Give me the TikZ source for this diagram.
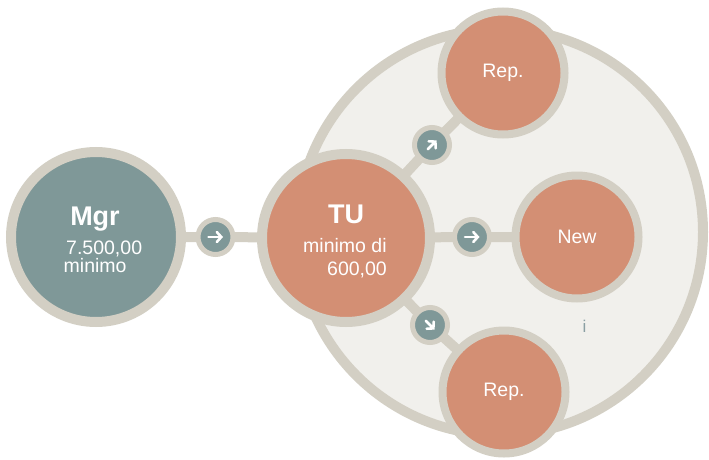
\documentclass[tikz,border=0pt]{standalone}
\usepackage{fontspec}
\setmainfont{Liberation Sans}
\usetikzlibrary{arrows.meta}
\definecolor{ringc}{HTML}{D3CFC4}
\definecolor{salmon}{HTML}{D38F74}
\definecolor{tealc}{HTML}{7F9898}
\definecolor{paper}{HTML}{F1F0EC}
\definecolor{itxt}{HTML}{8A9FA3}
\pgfdeclarelayer{back}
\pgfdeclarelayer{links}
\pgfsetlayers{back,links,main}
\tikzset{
  bignode/.style={circle, inner sep=0pt, draw=ringc, line width=10pt, minimum size=#1},
  repnode/.style={circle, inner sep=0pt, draw=ringc, line width=8pt, fill=salmon, text=white, minimum size=123pt},
  arrnode/.style={circle, inner sep=0pt, draw=ringc, line width=5pt, fill=tealc, minimum size=35pt},
  link/.style={draw=ringc, line width=10pt},
  arrowicon/.style={white, line width=2.6pt, line cap=round, -{Straight Barb[length=4.5pt,width=10pt,line cap=round]}},
  lbl/.style={text=white, inner sep=0pt},
  titlefont/.style={font=\fontsize{27}{30}\selectfont\bfseries},
}
\begin{document}
\begin{tikzpicture}[x=1pt,y=-1pt,font=\fontsize{19.5}{22}\selectfont]
\useasboundingbox (0,0) rectangle (709,460);
\begin{pgfonlayer}{back}
  \node[bignode=406pt, fill=paper] (group) at (500,232) {};
\end{pgfonlayer}
% main circles
\node[bignode=170pt, fill=tealc] (mgr) at (96,237) {};
\node[bignode=168pt, fill=salmon] (tu) at (346,238) {};
\node[repnode] (rep1) at (503,73) {Rep.};
\node[repnode] (new) at (577,237) {New};
\node[repnode] (rep2) at (504,392) {Rep.};
% arrow bubbles
\node[arrnode] (a1) at (215.5,237) {};
\node[arrnode] (a2) at (432,145) {};
\node[arrnode] (a3) at (472,237) {};
\node[arrnode] (a4) at (430,325) {};
% connectors
\begin{pgfonlayer}{links}
  \draw[link] (mgr.center) -- (a1.center) -- (tu.center);
  \draw[link] (tu.center) -- (a2.center) -- (rep1.center);
  \draw[link] (tu.center) -- (a3.center) -- (new.center);
  \draw[link] (tu.center) -- (a4.center) -- (rep2.center);
\end{pgfonlayer}
% arrow icons
\draw[arrowicon, shift={(a1.center)}] (-7,0) -- (7.5,0);
\draw[arrowicon, shift={(a3.center)}] (-7,0) -- (7.5,0);
\draw[arrowicon, shift={(a2.center)}, rotate=45] (-6,0) -- (6.5,0);
\draw[arrowicon, shift={(a4.center)}, rotate=-45] (-6,0) -- (6.5,0);
% texts
\node[lbl, titlefont, anchor=base] (mgrt) at (95,225) {Mgr};
\node[lbl, anchor=base west] (mgrv) at (66,254.5) {7.500,00};
\node[lbl, anchor=base west] (mgrm) at (63.5,272) {minimo};
\node[lbl, titlefont, anchor=base] (tut) at (346,223.5) {TU};
\node[lbl, anchor=base west] (tum) at (303,252) {minimo di};
\node[lbl, anchor=base west] (tuv) at (327,275) {600,00};
\node[text=itxt, inner sep=0pt, font=\fontsize{17}{20}\selectfont, anchor=base] (info) at (584.5,332) {i};
\end{tikzpicture}
\end{document}
